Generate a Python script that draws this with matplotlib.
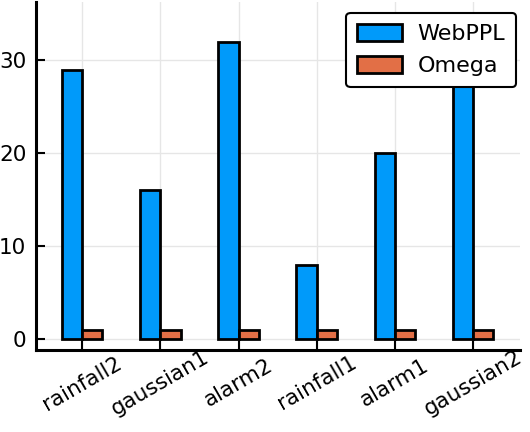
import numpy as np
import matplotlib
matplotlib.use("Agg")
import matplotlib.pyplot as plt

categories = ["rainfall2", "gaussian1", "alarm2", "rainfall1", "alarm1", "gaussian2"]
webppl = [29, 16, 32, 8, 20, 35]
omega = [1, 1, 1, 1, 1, 1]

plt.rcParams['font.family'] = ['DejaVu Sans']

fig = plt.figure(figsize=(5.30, 4.32), dpi=100)
ax = fig.add_axes([36 / 530, 1 - 350 / 432, (520 - 36) / 530, 348 / 432])

x = np.arange(len(categories))
w = 0.26
ax.bar(x - w / 2, webppl, width=w, color="#009AFA", edgecolor="black", linewidth=2, label="WebPPL", zorder=3)
ax.bar(x + w / 2, omega, width=w, color="#E26F46", edgecolor="black", linewidth=2, label="Omega", zorder=3)

ax.set_xlim(-0.59, 5.6)
ax.set_ylim(-1.18, 36.3)
ax.set_xticks(x)
ax.set_xticklabels(categories, rotation=30, ha="center", va="center", rotation_mode="anchor")
ax.set_yticks([0, 10, 20, 30])
ax.tick_params(axis="both", direction="in", length=6.5, width=1.5, labelsize=15.5)
ax.tick_params(axis="y", pad=7)
ax.tick_params(axis="x", pad=24)
ax.grid(True, color="#e6e6e6", linewidth=1, zorder=0)
for s in ["top", "right"]:
    ax.spines[s].set_visible(False)
for s in ["left", "bottom"]:
    ax.spines[s].set_linewidth(2.2)

leg = ax.legend(loc="upper right", fontsize=16, fancybox=True, framealpha=1,
                edgecolor="black", handlelength=2.0, handleheight=0.75,
                handletextpad=0.7, borderpad=0.5, labelspacing=0.55,
                bbox_to_anchor=(516 / 530, 1 - 13 / 432), bbox_transform=fig.transFigure,
                borderaxespad=0)
leg.get_frame().set_linewidth(1.5)

fig.savefig("out.png", dpi=100)
